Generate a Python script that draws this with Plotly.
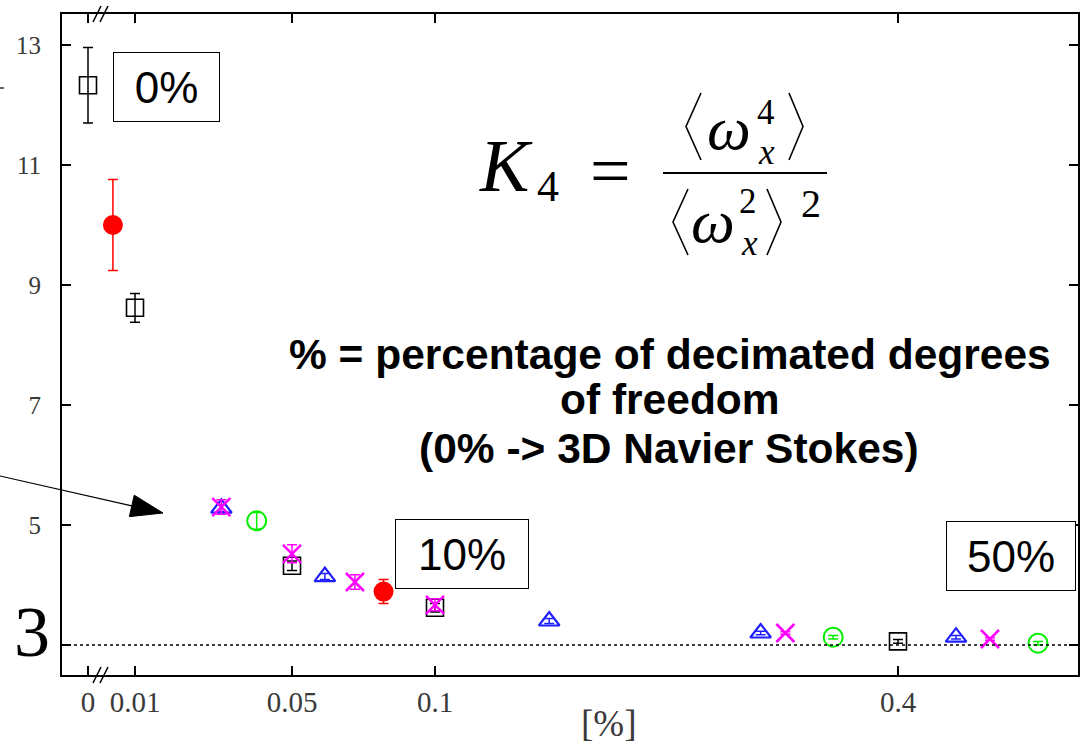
import numpy as np
import plotly.graph_objects as go

# ---------------- data ----------------
tick_pct = [0, 0.01, 0.05, 0.1, 0.4]
tick_labels = ["0", "0.01", "0.05", "0.1", "0.4"]
y_ticks = [3, 5, 7, 9, 11, 13]
y_tick_labels = ["", "5", "7", "9", "11", "13"]

black_x = [0.0, 0.01, 0.05, 0.1, 0.4]
black_y = [12.33, 8.62, 4.32, 3.62, 3.06]
black_err = [0.63, 0.24, 0.08, 0.07, 0.03]

red_x = [0.0053, 0.082]
red_y = [10.0, 3.89]
red_err = [0.76, 0.2]

blue_x = [0.032, 0.0615, 0.174, 0.311, 0.4376]
blue_y = [5.28, 4.14, 3.40, 3.20, 3.13]
blue_err = [0.06, 0.05, 0.04, 0.03, 0.03]

green_x = [0.041, 0.358, 0.4907]
green_y = [5.07, 3.13, 3.03]
green_err = [0.14, 0.03, 0.03]

magenta_x = [0.032, 0.05, 0.072, 0.1, 0.327, 0.4596]
magenta_y = [5.30, 4.52, 4.05, 3.67, 3.20, 3.10]
magenta_err = [0.12, 0.15, 0.12, 0.10, 0.02, 0.02]

# ---------------- broken / non-uniform x scale ----------------
scale_pct = [0, 0.01, 0.05, 0.1, 0.4, 0.6]
scale_pos = [0, 47, 204, 347, 810, 1118.7]


def xs(v):
    return np.interp(np.asarray(v, dtype=float), scale_pct, scale_pos)


# pixel -> paper helpers for decorations
L, T, W, H = 62, 14, 1016, 661


def PX(x):
    return (x - L) / W


def PY(y):
    return (T + H - y) / H


fig = go.Figure()


def add_series(x, y, err, symbol, color, size, lw):
    fig.add_trace(go.Scatter(
        x=xs(x), y=y, mode="markers",
        marker=dict(symbol=symbol, size=size, color=color,
                    line=dict(color=color, width=lw)),
        error_y=dict(type="data", array=err, visible=True,
                     color=color, thickness=1.5, width=5),
        showlegend=False, hoverinfo="skip"))


add_series(black_x, black_y, black_err, "square-open", "black", 17, 1.6)
add_series(red_x, red_y, red_err, "circle", "#ff0000", 20, 0)
add_series(green_x, green_y, green_err, "circle-open", "#00ee00", 19, 2)
add_series(blue_x, blue_y, blue_err, "triangle-up-open", "#2020ff", 18, 2.2)
add_series(magenta_x, magenta_y, magenta_err, "x-thin", "#ff00ff", 18, 2.5)

serif = "Liberation Serif"
sans = "Liberation Sans"

fig.update_layout(
    template="none",
    width=1081, height=748,
    margin=dict(l=L, r=1081 - L - W, t=T, b=748 - T - H, autoexpand=False),
    paper_bgcolor="white", plot_bgcolor="white",
    showlegend=False,
    xaxis=dict(range=[-26, 990], tickvals=list(xs(tick_pct)), ticktext=tick_labels,
               automargin=False,
               showgrid=False, zeroline=False, showline=True, linecolor="black",
               linewidth=2, mirror="ticks", ticks="inside", ticklen=9, tickwidth=1.5,
               tickcolor="black", ticklabelstandoff=0,
               tickfont=dict(family=serif, size=29, color="#3a3a3a")),
    yaxis=dict(range=[2.5, 13.517], tickvals=y_ticks, ticktext=y_tick_labels,
               automargin=False,
               showgrid=False, zeroline=False, showline=True, linecolor="black",
               linewidth=2, mirror="ticks", ticks="inside", ticklen=9, tickwidth=1.5,
               tickcolor="black", ticklabelstandoff=14,
               tickfont=dict(family=serif, size=25, color="#3a3a3a")),
)

shapes = []
# dotted reference line at K4 = 3
shapes.append(dict(type="line", xref="paper", yref="y", x0=0, x1=1, y0=3, y1=3,
                   line=dict(color="black", width=1.3, dash="dot")))
# axis-break slashes (bottom and top)
for yb in (675, 14):
    for dx in (0, 7):
        shapes.append(dict(type="line", xref="paper", yref="paper",
                           x0=PX(93 + dx), y0=PY(yb + 8), x1=PX(101 + dx), y1=PY(yb - 8),
                           line=dict(color="black", width=1.5)))
# fraction bar
shapes.append(dict(type="line", xref="paper", yref="paper",
                   x0=PX(663), x1=PX(827), y0=PY(173), y1=PY(173),
                   line=dict(color="black", width=2)))


def bracket(x_out, x_in, y0, y1, left=True):
    ym = (y0 + y1) / 2
    if left:
        p = f"M{PX(x_in)},{PY(y0)} L{PX(x_out)},{PY(ym)} L{PX(x_in)},{PY(y1)}"
    else:
        p = f"M{PX(x_out)},{PY(y0)} L{PX(x_in)},{PY(ym)} L{PX(x_out)},{PY(y1)}"
    return dict(type="path", xref="paper", yref="paper", path=p,
                line=dict(color="black", width=1.6))


shapes.append(bracket(686, 701, 93, 160, left=True))
shapes.append(bracket(789, 803, 93, 160, left=False))
shapes.append(bracket(673, 688, 189, 255, left=True))
shapes.append(bracket(767, 781, 189, 255, left=False))

# arrow from the left edge
tip = np.array([163.0, 513.0])
d = np.array([163.0, 37.0]); d /= np.linalg.norm(d)
n = np.array([-d[1], d[0]])
back = tip - 32 * d
c1 = back + 11 * n
c2 = back - 11 * n
shapes.append(dict(type="line", xref="paper", yref="paper",
                   x0=PX(0), y0=PY(476), x1=PX(back[0]), y1=PY(back[1]),
                   line=dict(color="black", width=1.2)))
shapes.append(dict(type="path", xref="paper", yref="paper",
                   path=f"M{PX(tip[0])},{PY(tip[1])} L{PX(c1[0])},{PY(c1[1])} "
                        f"L{PX(c2[0])},{PY(c2[1])} Z",
                   fillcolor="black", line=dict(color="black", width=1)))
# small mark at the top-left edge
shapes.append(dict(type="line", xref="paper", yref="paper",
                   x0=PX(0), x1=PX(4), y0=PY(88), y1=PY(88),
                   line=dict(color="black", width=1.2)))

fig.update_layout(shapes=shapes)


def txt(x, y, text, size, family=serif, color="black", **kw):
    fig.add_annotation(xref="paper", yref="paper", x=PX(x), y=PY(y), text=text,
                       showarrow=False, xanchor="center", yanchor="middle",
                       font=dict(family=family, size=size, color=color), **kw)


# formula K4 = <w^4>/<w^2>^2
txt(506, 166, "<i>K</i>", 74)
txt(548, 186, "4", 44)
txt(610, 171, "=", 72)
txt(729, 128, "<i>ω</i>", 62)
txt(766, 112, "4", 35)
txt(766, 152, "<i>x</i>", 35)
txt(713, 221, "<i>ω</i>", 62)
txt(748, 201, "2", 35)
txt(749, 244, "<i>x</i>", 35)
txt(811, 203, "2", 40)

# explanatory bold text
txt(670, 355, "<b>% = percentage of decimated degrees</b>", 42.5, family=sans)
txt(670, 400, "<b>of freedom</b>", 42.5, family=sans)
txt(669, 448, "<b>(0% -> 3D Navier Stokes)</b>", 42.5, family=sans)

# framed labels
for cx, cy, w, s in [(166.5, 87, 103, "0%"), (461.5, 554, 130, "10%"), (1010.5, 555.5, 126, "50%")]:
    txt(cx, cy, s, 44, family=sans, width=w, height=66, bordercolor="black",
        borderwidth=1, borderpad=1, bgcolor="white")

# big "3" label and x-axis title
txt(32, 632, "3", 72)
txt(608, 723, "[%]", 37, color="#3a3a3a")

fig.write_html("out.html", config={"displayModeBar": False},
               post_script="document.body.style.margin='0';")
